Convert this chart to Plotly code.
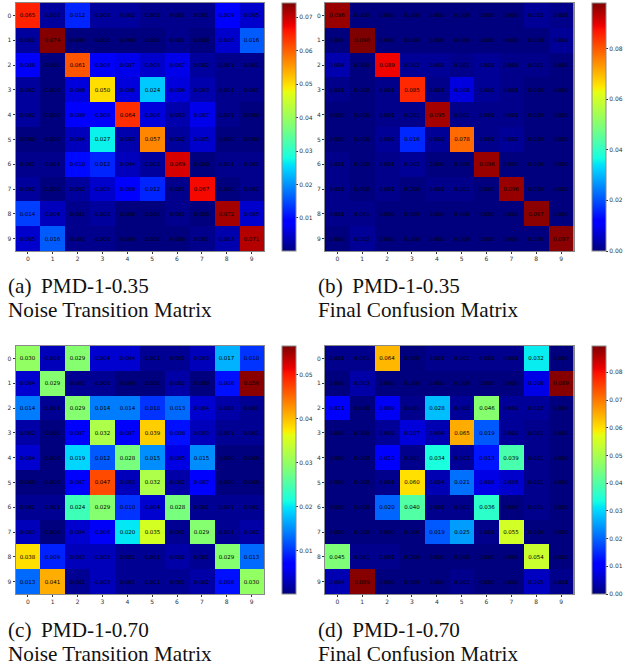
import plotly.graph_objects as go

W, H = 627, 668
labels = list(range(10))

matrix_a = [
 [.065,.002,.012,.002,.002,.001,.001,.001,.009,.005],
 [.002,.074,.000,.000,.000,.000,.001,.000,.005,.016],
 [.008,.000,.061,.008,.007,.005,.007,.002,.001,.001],
 [.002,.000,.006,.050,.006,.024,.006,.003,.001,.001],
 [.002,.000,.009,.008,.064,.006,.003,.007,.001,.000],
 [.000,.000,.004,.027,.003,.057,.002,.005,.000,.000],
 [.001,.001,.010,.012,.004,.002,.069,.000,.001,.001],
 [.002,.000,.002,.005,.009,.012,.001,.067,.000,.001],
 [.014,.004,.001,.002,.000,.000,.001,.000,.072,.005],
 [.005,.016,.001,.001,.000,.000,.000,.001,.003,.071],
]
matrix_b = [
 [.096,.000,.000,.000,.000,.000,.000,.000,.002,.001],
 [.000,.098,.000,.000,.000,.000,.000,.000,.000,.002],
 [.004,.000,.089,.002,.002,.001,.002,.001,.001,.000],
 [.001,.000,.001,.085,.001,.008,.002,.001,.000,.000],
 [.000,.000,.001,.001,.095,.001,.001,.001,.000,.000],
 [.000,.000,.002,.016,.002,.078,.001,.002,.000,.000],
 [.001,.000,.001,.002,.000,.000,.096,.000,.000,.000],
 [.001,.000,.001,.000,.001,.001,.000,.096,.000,.000],
 [.001,.001,.000,.000,.000,.000,.000,.000,.097,.000],
 [.000,.002,.000,.000,.000,.000,.000,.000,.000,.097],
]
matrix_c = [
 [.030,.003,.029,.004,.004,.001,.001,.003,.017,.010],
 [.004,.029,.001,.001,.000,.000,.002,.000,.008,.056],
 [.014,.001,.029,.014,.014,.010,.013,.004,.002,.001],
 [.002,.000,.007,.032,.007,.039,.008,.003,.001,.001],
 [.004,.000,.019,.012,.028,.015,.005,.015,.000,.000],
 [.000,.000,.007,.047,.003,.032,.002,.007,.000,.000],
 [.001,.001,.024,.029,.010,.004,.028,.001,.001,.001],
 [.003,.000,.004,.006,.020,.035,.001,.029,.001,.002],
 [.038,.009,.003,.003,.001,.001,.002,.001,.029,.013],
 [.013,.041,.001,.003,.001,.001,.001,.002,.008,.030],
]
matrix_d = [
 [.001,.001,.064,.000,.001,.001,.001,.001,.032,.000],
 [.000,.003,.000,.000,.000,.000,.000,.000,.008,.089],
 [.011,.000,.009,.001,.028,.002,.046,.002,.002,.000],
 [.000,.000,.002,.007,.004,.065,.019,.002,.001,.000],
 [.000,.000,.010,.001,.034,.002,.013,.039,.001,.000],
 [.000,.000,.001,.060,.004,.021,.008,.006,.001,.000],
 [.000,.000,.020,.040,.001,.001,.036,.000,.001,.000],
 [.000,.000,.000,.000,.019,.025,.001,.055,.000,.000],
 [.045,.001,.001,.000,.000,.000,.000,.000,.054,.000],
 [.004,.089,.000,.000,.000,.001,.000,.000,.005,.001],
]

matrices = [matrix_a, matrix_b, matrix_c, matrix_d]
zmins = [0.0001, 0.0, 0.0001, 0.0]
zmaxs = [0.0743, 0.0980, 0.0565, 0.0895]
cb_ticks = [
 [.01,.02,.03,.04,.05,.06,.07],
 [0,.02,.04,.06,.08],
 [.01,.02,.03,.04,.05],
 [0,.01,.02,.03,.04,.05,.06,.07,.08],
]
captions_1 = ["(a) \u2009PMD-1-0.35", "(b) \u2009PMD-1-0.35", "(c) \u2009PMD-1-0.70", "(d) \u2009PMD-1-0.70"]
captions_2 = ["Noise Transition Matrix", "Final Confusion Matrix",
              "Noise Transition Matrix", "Final Confusion Matrix"]

# pixel layout: left, right, top, bottom of the matrix; left of colorbar; caption left, caption rows
panels = [
 (15.5, 264, 3, 251, 282, 6, 286, 310),
 (325, 573.5, 3, 251, 592, 316, 286, 310),
 (15.5, 264, 346, 594, 282, 6, 630, 654),
 (325, 573.5, 346, 594, 592, 316, 630, 654),
]

jet = [[0,"#00007f"],[0.11,"#0000ff"],[0.125,"#0000ff"],[0.34,"#00dbff"],[0.35,"#00e5f7"],
       [0.375,"#16ffe1"],[0.5,"#7cff79"],[0.64,"#e4ff13"],[0.66,"#ffea00"],[0.89,"#ff1300"],
       [0.91,"#ed0000"],[1,"#7f0000"]]

GREY = "#8a8a8a"
TXT = "#333333"
fig = go.Figure()
annotations = []
layout_axes = {}
for i, (m, p) in enumerate(zip(matrices, panels)):
    l, r, t, b, cb, cx, c1, c2 = p
    n = "" if i == 0 else str(i + 1)
    fig.add_trace(go.Heatmap(
        z=m, x=labels, y=labels, xaxis=f"x{n}", yaxis=f"y{n}",
        zmin=zmins[i], zmax=zmaxs[i], colorscale=jet,
        texttemplate="%{z:.3f}", textfont=dict(size=5.5, color="#000000", family="DejaVu Sans"),
        hoverinfo="skip",
        colorbar=dict(
            x=cb / W, xanchor="left", xpad=0, ypad=0,
            y=1 - b / H, yanchor="bottom", len=(b - t) / H, lenmode="fraction",
            thickness=14, thicknessmode="pixels",
            tickvals=cb_ticks[i], tickformat=".2f", ticks="outside", ticklen=2, tickwidth=0.7,
            tickcolor=TXT, tickfont=dict(size=6, color=TXT, family="DejaVu Sans"),
            outlinecolor=GREY, outlinewidth=1,
        ),
    ))
    axis = dict(tickmode="array", tickvals=labels, ticktext=[str(v) for v in labels],
                ticks="outside", ticklen=2, tickwidth=0.7, tickcolor=TXT,
                tickfont=dict(size=6, color=TXT, family="DejaVu Sans"),
                showgrid=False, zeroline=False, showline=True, linecolor=GREY, linewidth=1, mirror=True)
    layout_axes[f"xaxis{n}"] = dict(axis, domain=[l / W, r / W], anchor=f"y{n}", range=[-0.5, 9.5])
    layout_axes[f"yaxis{n}"] = dict(axis, domain=[1 - b / H, 1 - t / H], anchor=f"x{n}", range=[9.5, -0.5])
    for text, yy in ((captions_1[i], c1), (captions_2[i], c2)):
        annotations.append(dict(
            text=text, xref="paper", yref="paper", x=cx / W, y=1 - yy / H,
            xanchor="left", yanchor="middle", showarrow=False,
            font=dict(family="Liberation Serif", size=21.2, color="#111111")))

fig.update_layout(width=W, height=H, margin=dict(l=0, r=0, t=0, b=0), paper_bgcolor="white",
                  plot_bgcolor="white", annotations=annotations, **layout_axes)
fig.write_html("out.html", post_script="document.body.style.margin='0';",
               config={"displayModeBar": False})
